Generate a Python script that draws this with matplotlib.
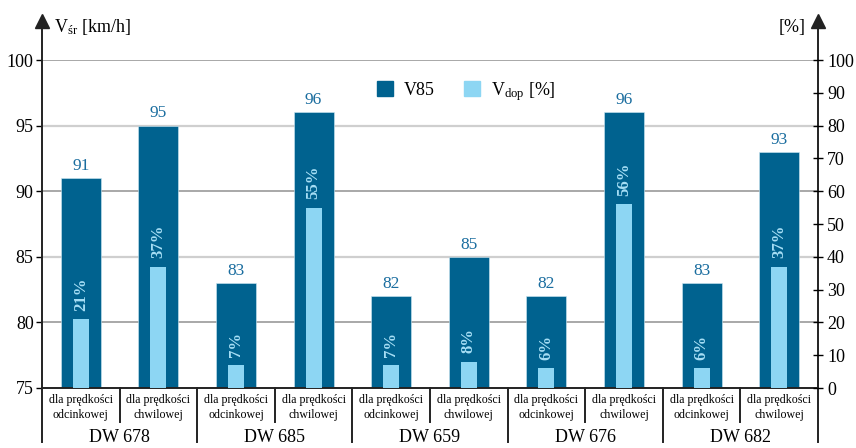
import matplotlib.pyplot as plt
from matplotlib.patches import Patch

# data
roads = ['DW 678', 'DW 685', 'DW 659', 'DW 676', 'DW 682']
cat_labels = ['dla prędkości\nodcinkowej', 'dla prędkości\nchwilowej'] * 5
v85 = [91, 95, 83, 96, 82, 85, 82, 96, 83, 93]
vdop = [21, 37, 7, 55, 7, 8, 6, 56, 6, 37]

dark = '#00628f'
light = '#8dd6f3'
num_col = '#1a6d9f'
pct_col = '#a6def5'

plt.rcParams['font.family'] = ['Liberation Serif', 'DejaVu Serif']
plt.rcParams['mathtext.fontset'] = 'custom'
plt.rcParams['mathtext.rm'] = 'Liberation Serif'
plt.rcParams['mathtext.it'] = 'Liberation Serif:italic'

fig = plt.figure(figsize=(8.56, 4.48), dpi=100)
ax = fig.add_axes([42 / 856, 1 - 388 / 448, 776 / 856, 328 / 448])
ax2 = ax.twinx()

x = list(range(len(v85)))

# gridlines (left scale)
for g in [100, 90, 80]:
    ax.axhline(g, color='#9a9a9a', lw=1.2, zorder=0)
for g in [95, 85]:
    ax.axhline(g, color='#cfcfcf', lw=1.6, zorder=0)

ax.bar(x, [v - 75 for v in v85], bottom=75, width=0.515, color=dark,
       edgecolor='#cfe8f3', linewidth=0.4, zorder=2)
for xi, v in zip(x, v85):
    ax.annotate(str(v), (xi, v), xytext=(0, 3), textcoords='offset points',
                ha='center', va='bottom', color=num_col, fontsize=12.5)

ax2.bar(x, vdop, width=0.206, color=light, zorder=3)
for xi, p in zip(x, vdop):
    ax2.annotate(f'{p}%', (xi, p), xytext=(0, 6), textcoords='offset points',
                 ha='center', va='bottom', rotation=90, color=pct_col,
                 fontsize=12, fontweight='bold')

ax.set_xlim(-0.5, 9.5)
ax.set_ylim(75, 100)
ax2.set_ylim(0, 100)
ax.set_yticks([75, 80, 85, 90, 95, 100])
ax2.set_yticks(range(0, 101, 10))
ax.set_xticks([])
ax.tick_params(axis='y', labelsize=13, direction='out', length=4, width=1, pad=2)
ax2.tick_params(axis='y', labelsize=13, direction='inout', length=7, width=1, pad=3)

for a in (ax, ax2):
    for s in a.spines.values():
        s.set_visible(False)

# axes lines with arrows
lk = dict(color='#222222', lw=1.4, clip_on=False, transform=ax.transAxes)
ax.plot([0, 0], [-0.165, 1.12], **lk)
ax.plot([1, 1], [-0.165, 1.12], **lk)
ax.plot([0, 1], [0, 0], **lk)
ax.plot([0, 1], [1.118, 1.118], marker='^', ms=10, ls='none', color='#222222',
        clip_on=False, transform=ax.transAxes)

# separators under the axis
for k in range(1, 10):
    xs = k / 10
    y0 = -0.165 if k % 2 == 0 else -0.105
    ax.plot([xs, xs], [0, y0], **lk)

tr = ax.get_xaxis_transform()
for xi, lab in zip(x, cat_labels):
    ax.text(xi, -0.06, lab, transform=tr, ha='center', va='center',
            fontsize=8.6, linespacing=1.4, clip_on=False)
for i, r in enumerate(roads):
    ax.text(2 * i + 0.5, -0.15, r, transform=tr, ha='center', va='center',
            fontsize=13, clip_on=False)

ax.text(0.016, 1.10, r'V$_{\mathrm{śr}}$ [km/h]', transform=ax.transAxes,
        ha='left', va='center', fontsize=13)
ax.text(0.984, 1.10, '[%]', transform=ax.transAxes,
        ha='right', va='center', fontsize=13)

handles = [Patch(color=dark), Patch(color=light)]
ax2.legend(handles, ['V85', r'V$_{\mathrm{dop}}$ [%]'], loc='center',
           bbox_to_anchor=(0.547, 0.905), ncol=2, frameon=False, fontsize=13,
           handlelength=0.9, handleheight=0.9, columnspacing=1.6,
           handletextpad=0.6)

fig.savefig('out.png', dpi=100)
